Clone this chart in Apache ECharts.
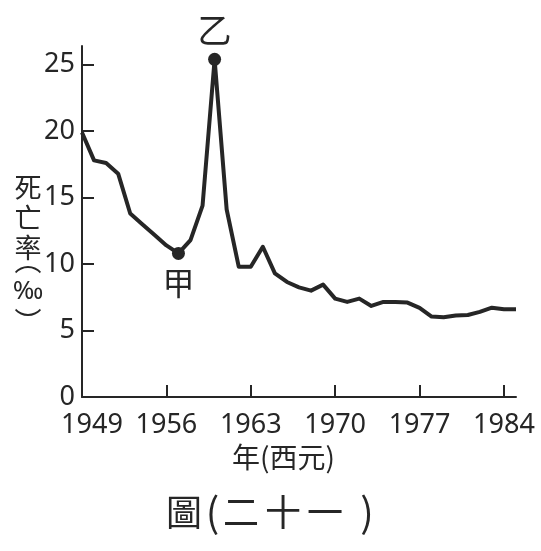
<!DOCTYPE html>
<html>
<head>
<meta charset="utf-8">
<script src="https://cdn.jsdelivr.net/npm/echarts@6/dist/echarts.min.js"></script>
<style>
html,body{margin:0;padding:0;background:#fff;}
#c{width:541px;height:551px;}
</style>
</head>
<body>
<div id="c"></div>
<script>
// Data
var years = [1949,1950,1951,1952,1953,1954,1955,1956,1957,1958,1959,1960,1961,1962,1963,1964,1965,1966,1967,1968,1969,1970,1971,1972,1973,1974,1975,1976,1977,1978,1979,1980,1981,1982,1983,1984,1985];
var deathRate = [19.9,17.8,17.6,16.8,13.8,13.0,12.2,11.4,10.8,11.8,14.4,25.4,14.1,9.8,9.8,11.3,9.3,8.65,8.25,8.0,8.45,7.4,7.15,7.4,6.85,7.15,7.14,7.1,6.7,6.05,6.0,6.13,6.17,6.4,6.72,6.6,6.6];
var markedYears = [1957,1960];
var markedNames = ['甲','乙'];
var xTickLabels = [1949,1956,1963,1970,1977,1984];
var yTickLabels = [0,5,10,15,20,25];

var lineData = years.map(function(y,i){return [y, deathRate[i]];});
var markData = markedYears.map(function(y,i){
  var v = deathRate[years.indexOf(y)];
  return {value:[y,v], name:markedNames[i],
    label:{position: i===1 ? 'top':'bottom', distance: i===1 ? 6 : 7, fontSize: i===1 ? 34 : 32}};
});

var ink = '#262626';
var sans = '"Noto Sans", "Noto Sans CJK TC", sans-serif';
var cjk = '"Noto Sans CJK TC", "Noto Sans", sans-serif';

var chart = echarts.init(document.getElementById('c'), null, {renderer:'canvas'});
chart.setOption({
  animation:false,
  backgroundColor:'#fff',
  grid:{left:82, right:25, top:46, bottom:154, containLabel:false},
  xAxis:{
    type:'value', min:1949, max:1985,
    axisLine:{lineStyle:{color:ink, width:2}},
    axisTick:{show:true, inside:true, length:12, lineStyle:{color:ink,width:2},
      customValues: xTickLabels.slice(1)},
    axisLabel:{color:ink, fontSize:27, fontFamily:sans, margin:15,
      customValues: xTickLabels,
      formatter:function(v){return v===xTickLabels[0] ? '{f|'+v+'}' : String(v);},
      rich:{f:{fontSize:27, fontFamily:sans, color:ink, padding:[0,0,0,20]}}},
    splitLine:{show:false}
  },
  yAxis:{
    type:'value', min:0, max:26.4,
    axisLine:{show:true, lineStyle:{color:ink, width:2}},
    axisTick:{show:true, inside:true, length:12, lineStyle:{color:ink,width:2},
      customValues: yTickLabels},
    axisLabel:{color:ink, fontSize:27, fontFamily:sans, margin:7,
      customValues: yTickLabels, formatter:function(v){return String(v);}},
    splitLine:{show:false}
  },
  series:[
    {type:'line', data:lineData, showSymbol:false, symbol:'none',
     lineStyle:{color:ink, width:4, join:'round'}, z:2},
    {type:'scatter', data:markData, symbol:'circle', symbolSize:13,
     itemStyle:{color:ink, opacity:1}, z:3,
     label:{show:true, color:ink, opacity:1, fontFamily:cjk, formatter:function(p){return p.name;}}}
  ],
  graphic:[
    {type:'text', x:28, y:173, z:10,
     style:{text:'死\n亡\n率', fill:ink, fontSize:27, lineHeight:30, fontFamily:cjk, align:'center'}},
    {type:'text', x:28, y:261, z:10,
     style:{text:'︵', fill:ink, fontSize:27, fontFamily:cjk, align:'center', verticalAlign:'middle'}},
    {type:'text', x:28, y:292, z:10,
     style:{text:'‰', fill:ink, fontSize:26, fontFamily:sans, align:'center', verticalAlign:'middle'}},
    {type:'text', x:28, y:322, z:10,
     style:{text:'︶', fill:ink, fontSize:27, fontFamily:cjk, align:'center', verticalAlign:'middle'}},
    {type:'text', left:232, top:443, z:10,
     style:{text:'年(西元)', fill:ink, fontSize:28, fontFamily:cjk}},
    {type:'text', left:166, top:492, z:10,
     style:{text:'{c|圖}{p|(}{c|二}{c|十}{c|一}{q|)}', fill:ink,
       rich:{c:{fontSize:36, fontFamily:cjk, width:42, align:'center'},
             p:{fontSize:40, fontFamily:cjk, width:15, align:'center'},
             q:{fontSize:40, fontFamily:cjk, width:42, align:'center'}}}}
  ]
});
</script>
</body>
</html>
